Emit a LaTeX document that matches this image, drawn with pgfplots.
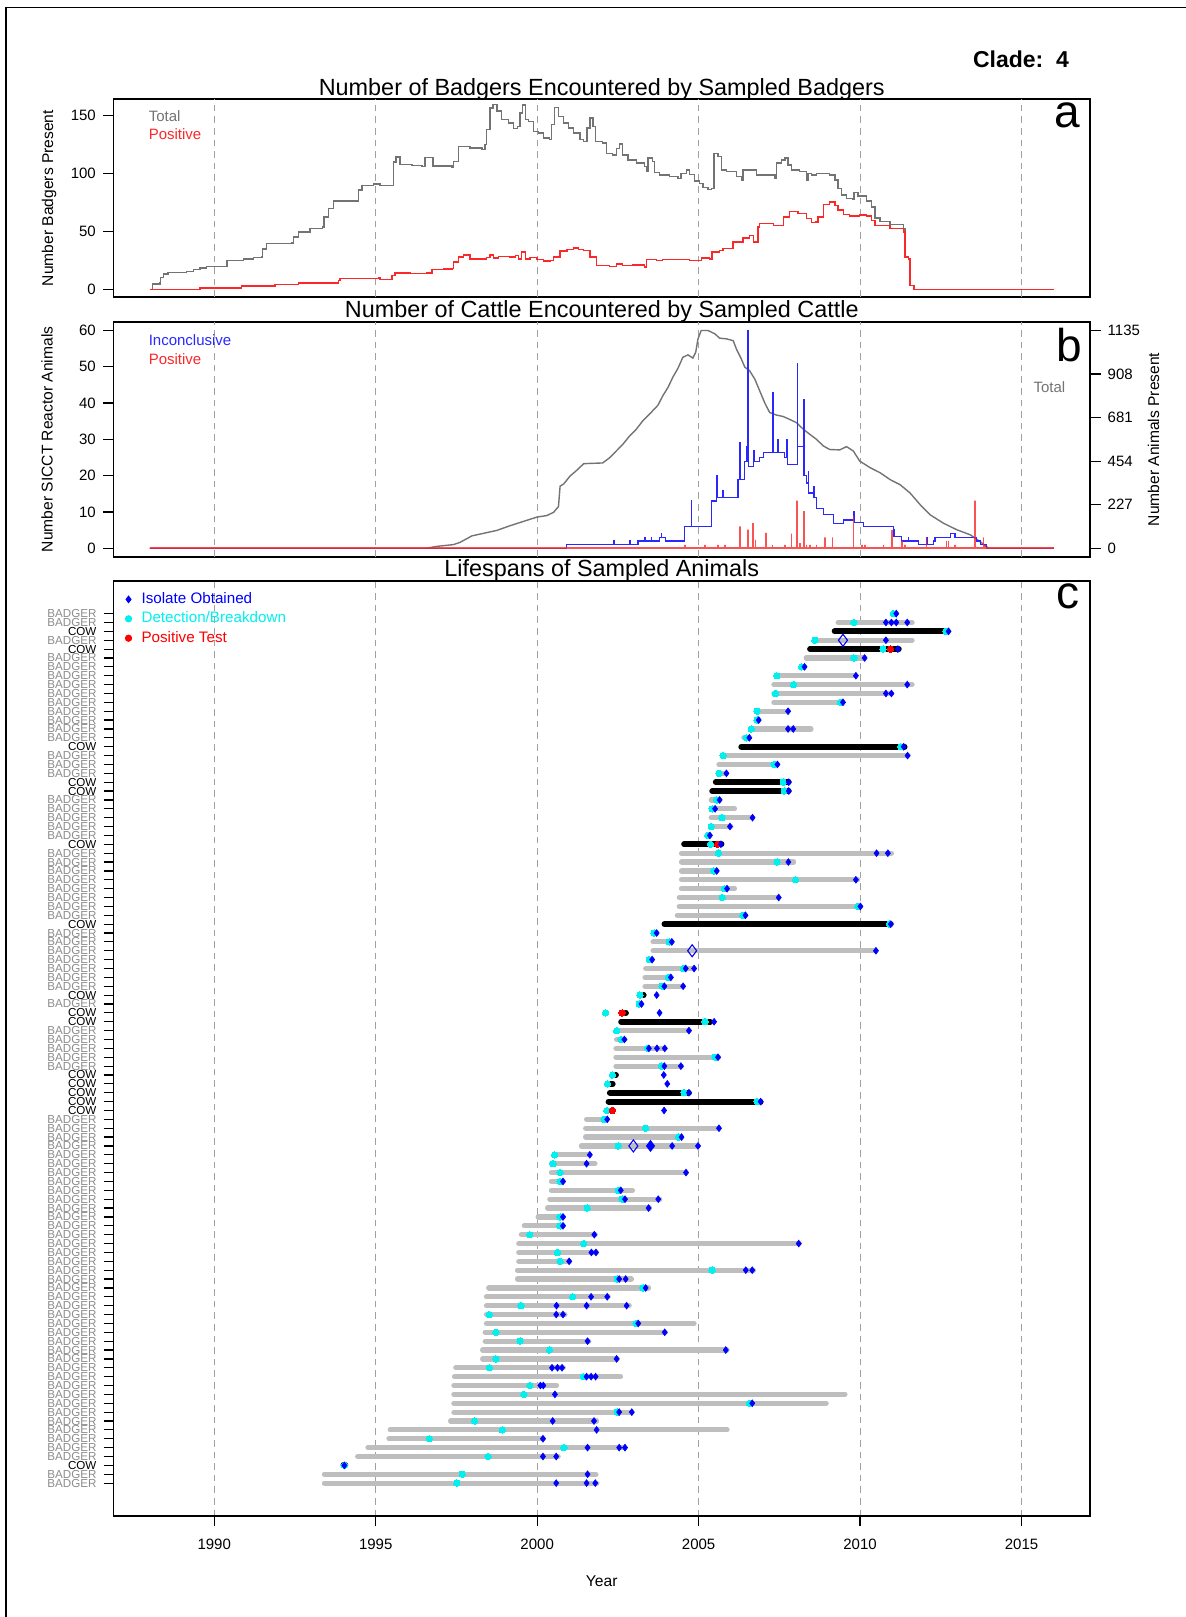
\documentclass[border=0pt]{standalone}
\usepackage{fontspec}
\setmainfont{Liberation Sans}
\usepackage{pgfplots}
\pgfplotsset{compat=1.18}
\definecolor{totgray}{RGB}{115,115,115}
\definecolor{barg}{RGB}{190,190,190}
\definecolor{gridg}{RGB}{160,160,160}
\definecolor{labg}{RGB}{140,140,140}
\definecolor{posred}{RGB}{250,40,40}
\definecolor{incblue}{RGB}{40,40,255}
\definecolor{cyn}{RGB}{0,240,240}
\newcommand{\B}{\textcolor{labg}{BADGER}}
\newcommand{\C}{COW}
\newcommand{\fs}[1]{\fontsize{#1}{#1}\selectfont}
\pgfplotsset{
 mypanel/.style={
  scale only axis, width=488.25pt, anchor=north west,
  xmin=1986.88, xmax=2017.12,
  axis line style={line width=0.9pt},
  tick align=outside, ytick pos=left,
  tick style={black, line width=0.6pt},
  major tick length=5.3pt,
  /pgf/number format/assume math mode=true,
  /pgf/number format/1000 sep={},
  ticklabel style={font=\fs{7.5}},
  label style={font=\fs{7.8}},
  title style={font=\fs{11.7}, at={(0.5,1)}, anchor=base, yshift=-4pt},
  major grid style={draw=gridg, dash pattern=on 3.3pt off 2.5pt, line width=0.5pt},
  clip mode=individual,
 },
 topx/.style={xtick=\empty, extra x ticks={1990,1995,...,2015}, extra x tick labels={},
  extra x tick style={major tick length=0pt, grid=major}},
}
\begin{document}
\begin{tikzpicture}
\path[use as bounding box] (0pt,0pt) rectangle (593pt,-808.5pt);
\draw[line width=0.6pt] (3pt,-808.5pt) -- (3pt,-3.65pt) -- (593pt,-3.65pt);
\node[anchor=base east, font=\bfseries\fs{11.5}] at (538pt,-33.5pt) {Clade:\ \ 4};

% ---------------- panel a
\begin{axis}[mypanel, topx, at={(56.75pt,-49.5pt)}, height=99pt,
  ymin=-6.3, ymax=164.3, ytick={0,50,100,150},
  title={Number of Badgers Encountered by Sampled Badgers},
  ylabel={Number Badgers Present},
  ylabel style={at={(axis description cs:-0.066,0.5)}, anchor=center}]
\addplot[const plot, totgray, line width=0.7pt] coordinates {
(1988.0,0) (1988.09,5) (1988.32,6.4) (1988.34,10.7) (1988.42,13.6) (1988.57,15) (1989.14,15.6) (1989.35,17.3) (1989.56,18.8) (1989.76,20) (1990.40,24.9) (1990.90,26.6) (1991.21,27.5) (1991.47,28) (1991.50,35) (1991.62,39.6) (1992.40,40.2) (1992.45,45.4) (1992.60,49.7) (1992.96,52.6) (1993.35,54) (1993.40,62.7) (1993.53,70) (1993.69,76.3) (1994.46,85.8) (1994.57,89.6) (1994.93,91) (1995.13,90) (1995.55,110) (1995.63,114.2) (1995.75,108) (1996.12,107) (1996.43,106) (1996.53,114) (1996.77,106.6) (1997.36,105.8) (1997.41,110.4) (1997.56,123.4) (1997.92,122) (1998.29,121) (1998.39,124.9) (1998.44,137.9) (1998.54,156.6) (1998.63,159.5) (1998.75,153.8) (1998.90,146.5) (1999.11,143.6) (1999.27,139) (1999.39,140.8) (1999.47,152.3) (1999.55,159) (1999.63,146.5) (1999.73,145) (1999.89,136.4) (2000.04,135) (2000.20,130.6) (2000.38,129.2) (2000.45,142.2) (2000.53,157.2) (2000.66,149.4) (2000.82,143.6) (2000.97,139.3) (2001.13,135) (2001.33,129.2) (2001.44,127.7) (2001.54,139.3) (2001.64,148) (2001.73,140.8) (2001.80,127.7) (2002.03,126.3) (2002.14,117.6) (2002.34,116) (2002.45,121.4) (2002.55,125.4) (2002.65,116) (2002.81,111.8) (2003.07,109) (2003.32,106) (2003.38,101.7) (2003.43,113.3) (2003.58,110.4) (2003.63,101.2) (2003.79,98.8) (2004.10,97.4) (2004.36,96) (2004.46,100.3) (2004.62,103.2) (2004.72,99.4) (2004.88,93.6) (2005.03,91.6) (2005.13,87.9) (2005.29,86.4) (2005.39,87.3) (2005.47,117.6) (2005.60,114.7) (2005.70,103.2) (2005.86,101.7) (2006.17,97.4) (2006.32,94.5) (2006.38,103.2) (2006.58,103.2) (2006.79,98.8) (2007.36,96) (2007.41,109) (2007.56,111.8) (2007.67,113.3) (2007.77,107.5) (2007.87,103.2) (2008.13,101.7) (2008.34,94.5) (2008.39,100.3) (2008.50,98.8) (2008.65,100.3) (2009.06,98.8) (2009.22,94.5) (2009.32,87.3) (2009.43,81.5) (2009.58,78.6) (2009.77,78) (2009.81,83.8) (2009.94,80.9) (2010.20,76.3) (2010.36,71.4) (2010.46,61.8) (2010.62,59) (2010.93,56.1) (2011.34,52.6) (2011.39,28) (2011.49,26.6) (2011.55,3.5) (2011.67,0) (2016.0,0)};
\addplot[const plot, posred, line width=0.7pt] coordinates {
(1988.0,0) (1989.56,1.4) (1990.85,3.2) (1991.88,4.6) (1992.60,5.8) (1993.84,7.8) (1993.89,9.8) (1995.08,10.4) (1995.13,8.7) (1995.50,12.1) (1995.60,14.5) (1996.06,13.9) (1996.58,14.5) (1996.74,17.3) (1997.10,17.9) (1997.36,18.5) (1997.41,23.7) (1997.56,28) (1997.72,30) (1997.92,26.6) (1998.44,27.5) (1998.54,30) (1998.65,27.2) (1998.80,28.6) (1999.16,28) (1999.32,29.5) (1999.42,26.6) (1999.52,32.4) (1999.63,26.6) (1999.78,27.5) (1999.99,26) (2000.20,24.6) (2000.40,25.1) (2000.51,28) (2000.71,33.2) (2000.92,34.4) (2001.13,35.8) (2001.28,34.4) (2001.44,33.8) (2001.64,28) (2001.83,20.8) (2002.24,20.2) (2002.45,22.3) (2002.65,20.8) (2002.96,21.4) (2003.32,19.4) (2003.38,26) (2003.69,25.1) (2003.89,26) (2004.72,25.1) (2005.08,27.2) (2005.34,26.6) (2005.42,32.4) (2005.65,33.8) (2005.75,35.3) (2006.07,41) (2006.38,44.5) (2006.58,46.8) (2006.69,41) (2006.84,54) (2006.89,57) (2007.31,55.5) (2007.62,62.7) (2007.82,67.6) (2008.08,65.6) (2008.34,61.3) (2008.50,57.8) (2008.63,58.4) (2008.70,62.7) (2008.86,73.4) (2009.06,75.7) (2009.22,72.8) (2009.32,68.5) (2009.48,64.7) (2009.68,63.6) (2009.99,64.2) (2010.20,63.6) (2010.36,59.8) (2010.46,55.5) (2010.93,52.6) (2011.34,49.7) (2011.39,28) (2011.49,26.6) (2011.55,3.5) (2011.67,0) (2016.0,0)};
\node[anchor=base west, text=totgray, font=\fs{7.5}, xshift=14.1pt, yshift=-11.15pt] at (rel axis cs:0,1) {Total};
\node[anchor=base west, text=posred, font=\fs{7.5}, xshift=14.1pt, yshift=-20.25pt] at (rel axis cs:0,1) {Positive};
\node[anchor=base east, font=\fs{23}, xshift=-1.5pt, yshift=-14pt] at (rel axis cs:1,1) {a};
\end{axis}

% ---------------- panel b
\begin{axis}[mypanel, topx, at={(56.75pt,-160.9pt)}, height=117.55pt,
  ymin=-2.4, ymax=62.4, ytick={0,10,...,60},
  title={Number of Cattle Encountered by Sampled Cattle},
  ylabel={Number SICCT Reactor Animals},
  ylabel style={at={(axis description cs:-0.068,0.5)}, anchor=center}]
\addplot[sharp plot, totgray, line width=0.7pt] coordinates {
(1988,0) (1996.58,0) (1996.89,0.5) (1997.41,1.0) (1997.61,1.6) (1997.98,3.4) (1998.44,4.3) (1998.75,4.9) (1999.16,6.2) (1999.58,7.4) (2000.0,8.6) (2000.30,9.0) (2000.51,9.9) (2000.66,11.5) (2000.71,17.1) (2000.82,17.7) (2001.02,19.9) (2001.23,21.5) (2001.44,23.3) (2002.03,23.5) (2002.24,24.9) (2002.45,26.8) (2002.65,28.6) (2002.86,30.9) (2003.07,32.8) (2003.27,35.1) (2003.43,36.5) (2003.58,37.9) (2003.74,39.4) (2003.89,42) (2004.05,44.3) (2004.20,47.1) (2004.36,49.6) (2004.51,52.6) (2004.67,53.3) (2004.82,52.4) (2004.91,54) (2004.98,57.7) (2005.08,60) (2005.29,60) (2005.50,59.1) (2005.65,57.9) (2005.86,57.7) (2006.07,57.2) (2006.17,54.9) (2006.32,52.2) (2006.43,49.9) (2006.58,48.9) (2006.74,46.6) (2006.89,43.4) (2007.05,40) (2007.20,37.4) (2007.41,36.7) (2007.62,36.3) (2007.82,35.5) (2008.03,34.6) (2008.24,32.8) (2008.44,31.4) (2008.65,30) (2008.86,28.2) (2009.06,27.2) (2009.37,27.1) (2009.58,28) (2009.79,26.8) (2009.99,24) (2010.31,22.2) (2010.62,20.8) (2010.93,18.9) (2011.24,17.5) (2011.55,15.2) (2011.86,12) (2012.17,9.2) (2012.58,6.9) (2012.99,5.1) (2013.41,3.7) (2013.72,1.8) (2013.98,0) (2016,0)};
\addplot[const plot, incblue, line width=0.6pt] coordinates {
(1988,0) (2000.92,1) (2002.36,2) (2002.38,1) (2002.86,2) (2002.88,1) (2003.12,2) (2003.32,3) (2003.34,2) (2003.53,3) (2003.55,2) (2003.79,3) (2003.84,4) (2003.86,3) (2003.98,2) (2004.57,6) (2004.77,13) (2004.79,6) (2005.39,13) (2005.55,20) (2005.57,14) (2005.75,16) (2005.77,14) (2006.22,19) (2006.27,29) (2006.29,19) (2006.43,24) (2006.48,28) (2006.50,24) (2006.53,60) (2006.55,22.6) (2006.69,24) (2006.71,27) (2006.73,24) (2006.89,25) (2007.00,26.3) (2007.29,43) (2007.31,26.3) (2007.46,30) (2007.48,26.3) (2007.67,25) (2007.72,30) (2007.74,23) (2008.03,23) (2008.05,51) (2008.07,28) (2008.24,41) (2008.26,20) (2008.34,18) (2008.39,21) (2008.41,15.2) (2008.55,13.9) (2008.57,17) (2008.59,13.9) (2008.65,11) (2008.86,9.2) (2009.17,6.9) (2009.48,7.8) (2009.79,8) (2009.81,10) (2009.83,7) (2010.10,6) (2011.03,3.2) (2011.05,5) (2011.07,3.2) (2011.29,2) (2011.49,3) (2011.51,2) (2011.80,1) (2012.06,3) (2012.08,1) (2012.28,2) (2012.32,3) (2012.79,4) (2012.94,3) (2013.61,2) (2013.72,1) (2013.92,0) (2016,0)};
\addplot[sharp plot, posred, line width=0.8pt, opacity=0.8] coordinates {
(1988,0) (2004.57,0) (2004.57,0.9) (2004.57,0) (2005.19,0) (2005.19,0.9) (2005.19,0) (2005.60,0) (2005.60,0.9) (2005.60,0) (2005.81,0) (2005.81,0.9) (2005.81,0) (2006.29,0) (2006.29,6) (2006.29,0) (2006.53,0) (2006.53,5.1) (2006.53,0) (2006.69,0) (2006.69,6.9) (2006.69,0) (2006.76,0) (2006.76,2.3) (2006.76,0) (2007.08,0) (2007.08,4.2) (2007.08,0) (2007.29,0) (2007.29,0.9) (2007.29,0) (2007.67,0) (2007.67,0.9) (2007.67,0) (2007.87,0) (2007.87,4) (2007.87,0) (2008.05,0) (2008.05,13.1) (2008.05,0) (2008.13,0) (2008.13,1.4) (2008.13,0) (2008.26,0) (2008.26,10.2) (2008.26,0) (2008.34,0) (2008.34,0.9) (2008.34,0) (2008.44,0) (2008.44,0.9) (2008.44,0) (2008.65,0) (2008.65,0.9) (2008.65,0) (2008.91,0) (2008.91,3) (2008.91,0) (2009.15,0) (2009.15,3) (2009.15,0) (2009.79,0) (2009.79,8.8) (2009.79,0) (2010.05,0) (2010.05,0.9) (2010.05,0) (2010.15,0) (2010.15,0.9) (2010.15,0) (2010.72,0) (2010.72,0.9) (2010.72,0) (2010.98,0) (2010.98,5) (2010.98,0) (2011.29,0) (2011.29,2) (2011.29,0) (2011.39,0) (2011.39,0.9) (2011.39,0) (2012.06,0) (2012.06,3) (2012.06,0) (2012.68,0) (2012.68,2) (2012.68,0) (2012.74,0) (2012.74,2) (2012.74,0) (2012.94,0) (2012.94,0.9) (2012.94,0) (2013.56,0) (2013.56,13.1) (2013.56,0) (2013.82,0) (2013.82,3) (2013.82,0) (2013.87,0) (2013.87,0.9) (2013.87,0) (2016,0)};
\node[anchor=base west, text=incblue, font=\fs{7.5}, xshift=14.1pt, yshift=-11.75pt] at (rel axis cs:0,1) {Inconclusive};
\node[anchor=base west, text=posred, font=\fs{7.5}, xshift=14.1pt, yshift=-21.1pt] at (rel axis cs:0,1) {Positive};
\node[anchor=base east, text=totgray, font=\fs{7.5}, xshift=-8.85pt, yshift=-35.25pt] at (rel axis cs:1,1) {Total};
\node[anchor=base east, font=\fs{23}, xshift=-0.5pt, yshift=-20pt] at (rel axis cs:1,1) {b};
\end{axis}
\begin{axis}[scale only axis, width=488.25pt, height=117.55pt, anchor=north west,
  at={(56.75pt,-160.9pt)}, xmin=1986.88, xmax=2017.12, ymin=-2.4, ymax=62.4,
  axis x line=none, axis y line*=right, axis line style={line width=0.9pt},
  tick align=outside, tick style={black, line width=0.6pt}, major tick length=5.3pt,
  ytick={0,12,24,36,48,60}, yticklabels={0,227,454,681,908,1135},
  ticklabel style={font=\fs{7.5}}, label style={font=\fs{7.8}},
  ylabel={Number Animals Present},
  ylabel style={at={(axis description cs:1.065,0.5)}, anchor=center}]
\end{axis}

% ---------------- panel c
\begin{axis}[mypanel, at={(56.75pt,-290.3pt)}, height=467.75pt,
  ymin=-2.72, ymax=102.72, xtick={1990,1995,...,2015}, xtick pos=bottom, xmajorgrids,
  major tick length=5pt,
  xticklabel style={yshift=-3pt},
  ytick={1,...,99},
  yticklabel style={font=\fs{5.8}},
  yticklabels={\B,\B,\C,
  \B,\B,\B,\B,\B,\B,\B,\B,\B,\B,
  \B,\B,\B,\B,\B,\B,\B,\B,\B,\B,
  \B,\B,\B,\B,\B,\B,\B,\B,\B,\B,
  \B,\B,\B,\B,\B,\B,\B,\B,\B,
  \C,\C,\C,\C,\C,
  \B,\B,\B,\B,\B,
  \C,\C,\B,\C,
  \B,\B,\B,\B,\B,\B,\B,
  \C,
  \B,\B,\B,\B,\B,\B,\B,\B,
  \C,
  \B,\B,\B,\B,\B,
  \C,\C,
  \B,\B,\B,
  \C,
  \B,\B,\B,\B,\B,\B,\B,\B,\B,\B,
  \C,\B,\C,\B,\B},
  title={Lifespans of Sampled Animals},
  xlabel={Year},
  xlabel style={at={(axis description cs:0.5,-0.0695)}, anchor=center},
  legend cell align=left,
  legend style={at={(0.0117,0.9893)}, anchor=north west, draw=none, fill=none,
    inner sep=0pt, font=\fs{7.6}, row sep=1.3pt, column sep=4.3pt,
    nodes={inner sep=0.6pt, text height=5.6pt, text depth=1.6pt}}]
\addlegendimage{only marks, mark=diamond*, mark size=1.7pt, blue}
\addlegendentry{\textcolor{blue}{Isolate Obtained}}
\addlegendimage{only marks, mark=*, mark size=1.6pt, cyn}
\addlegendentry{\textcolor{cyn}{Detection/Breakdown}}
\addlegendimage{only marks, mark=*, mark size=1.6pt, red}
\addlegendentry{\textcolor{red}{Positive Test}}
% grey bars (badgers)
\addplot[forget plot, barg, line width=2.6pt, line cap=round, unbounded coords=jump] coordinates {
(2011.03,99) (2011.12,99) (0,nan)
(2009.32,98) (2011.61,98) (0,nan)
(2008.60,96) (2011.61,96) (0,nan)
(2008.33,94) (2010.14,94) (0,nan)
(2008.19,93) (2008.28,93) (0,nan)
(2007.42,92) (2009.87,92) (0,nan)
(2007.33,91) (2011.61,91) (0,nan)
(2007.33,90) (2010.97,90) (0,nan)
(2007.33,89) (2009.47,89) (0,nan)
(2006.81,88) (2007.77,88) (0,nan)
(2006.81,87) (2006.86,87) (0,nan)
(2006.63,86) (2008.48,86) (0,nan)
(2006.40,85) (2006.57,85) (0,nan)
(2005.76,83) (2011.49,83) (0,nan)
(2005.63,82) (2007.44,82) (0,nan)
(2005.63,81) (2005.86,81) (0,nan)
(2005.39,78) (2005.65,78) (0,nan)
(2005.39,77) (2006.11,77) (0,nan)
(2005.39,76) (2006.67,76) (0,nan)
(2005.39,75) (2006.00,75) (0,nan)
(2005.28,74) (2005.35,74) (0,nan)
(2004.47,72) (2010.97,72) (0,nan)
(2004.47,71) (2007.94,71) (0,nan)
(2004.47,70) (2005.56,70) (0,nan)
(2004.47,69) (2009.93,69) (0,nan)
(2004.47,68) (2006.11,68) (0,nan)
(2004.40,67) (2007.48,67) (0,nan)
(2004.40,66) (2010.01,66) (0,nan)
(2004.34,65) (2006.46,65) (0,nan)
(2003.62,63) (2003.70,63) (0,nan)
(2003.59,62) (2004.17,62) (0,nan)
(2003.59,61) (2010.49,61) (0,nan)
(2003.47,60) (2003.56,60) (0,nan)
(2003.36,59) (2004.86,59) (0,nan)
(2003.34,58) (2004.14,58) (0,nan)
(2003.34,57) (2004.52,57) (0,nan)
(2003.16,55) (2003.23,55) (0,nan)
(2002.46,52) (2004.71,52) (0,nan)
(2002.46,51) (2002.72,51) (0,nan)
(2002.44,50) (2003.97,50) (0,nan)
(2002.44,49) (2005.62,49) (0,nan)
(2002.44,48) (2004.47,48) (0,nan)
(2001.53,42) (2002.15,42) (0,nan)
(2001.50,41) (2005.63,41) (0,nan)
(2001.50,40) (2004.47,40) (0,nan)
(2001.37,39) (2004.98,39) (0,nan)
(2000.52,38) (2001.63,38) (0,nan)
(2000.44,37) (2001.79,37) (0,nan)
(2000.44,36) (2004.61,36) (0,nan)
(2000.44,35) (2000.81,35) (0,nan)
(2000.44,34) (2002.95,34) (0,nan)
(2000.39,33) (2003.80,33) (0,nan)
(2000.32,32) (2003.48,32) (0,nan)
(2000.03,31) (2000.81,31) (0,nan)
(1999.60,30) (2000.81,30) (0,nan)
(1999.51,29) (2001.80,29) (0,nan)
(1999.43,28) (2008.12,28) (0,nan)
(1999.43,27) (2001.84,27) (0,nan)
(1999.43,26) (2001.01,26) (0,nan)
(1999.39,25) (2006.70,25) (0,nan)
(1999.39,24) (2002.92,24) (0,nan)
(1998.50,23) (2003.45,23) (0,nan)
(1998.43,22) (2002.20,22) (0,nan)
(1998.43,21) (2002.85,21) (0,nan)
(1998.43,20) (2000.86,20) (0,nan)
(1998.43,19) (2004.86,19) (0,nan)
(1998.39,18) (2003.97,18) (0,nan)
(1998.39,17) (2001.60,17) (0,nan)
(1998.31,16) (2005.88,16) (0,nan)
(1998.31,15) (2002.48,15) (0,nan)
(1997.48,14) (2000.81,14) (0,nan)
(1997.44,13) (2002.58,13) (0,nan)
(1997.42,12) (2000.60,12) (0,nan)
(1997.42,11) (2009.53,11) (0,nan)
(1997.42,10) (2008.95,10) (0,nan)
(1997.42,9) (2002.93,9) (0,nan)
(1997.32,8) (2001.84,8) (0,nan)
(1995.45,7) (2005.88,7) (0,nan)
(1995.41,6) (2000.19,6) (0,nan)
(1994.76,5) (2002.72,5) (0,nan)
(1994.44,4) (2000.65,4) (0,nan)
(1993.41,2) (2001.82,2) (0,nan)
(1993.41,1) (2001.85,1)};
% black bars (cattle)
\addplot[forget plot, black, line width=2.9pt, line cap=round, unbounded coords=jump] coordinates {
(2009.21,97) (2012.71,97) (0,nan)
(2008.45,95) (2011.20,95) (0,nan)
(2006.32,84) (2011.38,84) (0,nan)
(2005.53,80) (2007.79,80) (0,nan)
(2005.42,79) (2007.79,79) (0,nan)
(2004.55,73) (2005.71,73) (0,nan)
(2003.94,64) (2010.95,64) (0,nan)
(2003.18,56) (2003.30,56) (0,nan)
(2002.63,54) (2002.75,54) (0,nan)
(2002.60,53) (2005.36,53) (0,nan)
(2002.33,47) (2002.44,47) (0,nan)
(2002.18,46) (2002.34,46) (0,nan)
(2002.25,45) (2004.70,45) (0,nan)
(2002.21,44) (2006.92,44) (0,nan)
(2002.16,43) (2002.33,43) (0,nan)
(1994.00,3) (1994.06,3)};
% detection / breakdown
\addplot[forget plot, only marks, mark=*, mark size=1.6pt, mark options={draw=cyn, fill=cyn, line width=0pt}] coordinates {
(2011.03,99) (2009.81,98) (2012.66,97) (2008.60,96) (2010.71,95) (2009.81,94) (2008.19,93) (2007.42,92) (2007.94,91) (2007.38,90) (2009.39,89) (2006.81,88) (2006.81,87) (2006.63,86) (2006.48,85) (2011.26,84) (2005.76,83) (2007.34,82) (2005.63,81) (2007.62,80) (2007.65,79) (2005.56,78) (2005.42,77) (2005.72,76) (2005.39,75) (2005.28,74) (2005.37,73) (2005.61,72) (2007.43,71) (2005.47,70) (2008.00,69) (2005.80,68) (2005.73,67) (2009.93,66) (2006.37,65) (2010.91,64) (2003.62,63) (2004.09,62) (2003.47,60) (2004.53,59) (2004.06,58) (2003.87,57) (2003.18,56) (2003.16,55) (2002.12,54) (2005.20,53) (2002.46,52) (2002.60,51) (2003.42,50) (2005.51,49) (2003.85,48) (2002.33,47) (2002.18,46) (2004.55,45) (2006.81,44) (2002.16,43) (2002.07,42) (2003.36,41) (2004.38,40) (2002.51,39) (2000.54,38) (2000.49,37) (2000.71,36) (2000.71,35) (2002.51,34) (2002.63,33) (2001.55,32) (2000.71,31) (2000.71,30) (1999.77,29) (2001.44,28) (2000.63,27) (2000.71,26) (2005.42,25) (2002.48,24) (2003.28,23) (2001.10,22) (1999.50,21) (1998.52,20) (2003.06,19) (1998.72,18) (1999.47,17) (2000.38,16) (1998.72,15) (1998.52,14) (2001.43,13) (1999.77,12) (1999.59,11) (2006.57,10) (2002.48,9) (1998.06,8) (1998.92,7) (1996.66,6) (2000.83,5) (1998.48,4) (1994.03,3) (1997.68,2) (1997.51,1)};
% positive tests
\addplot[forget plot, only marks, mark=*, mark size=1.6pt, mark options={draw=red, fill=red, line width=0pt}] coordinates {
(2010.94,95) (2005.59,73) (2002.63,54) (2002.33,43)};
% isolates
\addplot[forget plot, only marks, mark=diamond*, mark size=1.7pt, mark options={draw=blue, fill=blue, line width=0.3pt}] coordinates {
(2011.12,99) (2010.80,98) (2010.97,98) (2011.12,98) (2011.46,98) (2012.74,97) (2010.80,96) (2011.17,95) (2010.14,94) (2008.28,93) (2009.87,92) (2011.46,91) (2010.80,90) (2010.97,90) (2009.47,89) (2007.77,88) (2006.86,87) (2007.77,86) (2007.93,86) (2006.57,85) (2011.35,84) (2011.47,83) (2007.44,82) (2005.86,81) (2007.79,80) (2007.79,79) (2005.65,78) (2005.51,77) (2006.67,76) (2005.97,75) (2005.35,74) (2005.69,73) (2010.51,72) (2010.86,72) (2007.78,71) (2005.56,70) (2009.87,69) (2005.88,68) (2007.48,67) (2010.01,66) (2006.45,65) (2010.95,64) (2003.70,63) (2004.17,62) (2010.49,61) (2003.56,60) (2004.60,59) (2004.86,59) (2004.14,58) (2003.94,57) (2004.52,57) (2003.70,56) (2003.23,55) (2003.79,54) (2005.48,53) (2004.70,52) (2002.70,51) (2003.46,50) (2003.71,50) (2003.95,50) (2005.60,49) (2003.94,48) (2004.45,48) (2003.92,47) (2004.03,46) (2004.70,45) (2006.92,44) (2003.93,43) (2002.17,42) (2005.63,41) (2004.47,40) (2004.18,39) (2004.98,39) (2001.63,38) (2001.53,37) (2004.61,36) (2000.80,35) (2002.59,34) (2002.72,33) (2003.75,33) (2003.45,32) (2000.80,31) (2000.80,30) (2001.77,29) (2008.10,28) (2001.68,27) (2001.82,27) (2000.99,26) (2006.46,25) (2006.66,25) (2002.54,24) (2002.74,24) (2003.36,23) (2001.67,22) (2002.17,22) (2000.60,21) (2001.53,21) (2002.77,21) (2000.59,20) (2000.80,20) (2003.13,19) (2003.95,18) (2001.56,17) (2005.84,16) (2002.46,15) (2000.46,14) (2000.63,14) (2000.77,14) (2001.53,13) (2001.67,13) (2001.81,13) (2000.10,12) (2000.19,12) (2000.55,11) (2006.66,10) (2002.54,9) (2002.93,9) (2000.48,8) (2001.76,8) (2001.84,7) (2000.18,6) (2001.56,5) (2002.54,5) (2002.72,5) (2000.18,4) (2000.59,4) (1994.03,3) (2001.56,2) (2000.59,1) (2001.53,1) (2001.80,1)};
% open diamonds
\addplot[forget plot, only marks, mark=diamond, mark size=3pt, mark options={draw=blue, line width=0.55pt}] coordinates {
(2009.47,96) (2004.80,61) (2002.98,39)};
\addplot[forget plot, only marks, mark=diamond*, mark size=2.7pt, mark options={draw=blue, fill=blue, line width=0.4pt}] coordinates {
(2003.51,39)};
\node[anchor=base east, font=\fs{23}, xshift=-1.5pt, yshift=-13.7pt] at (rel axis cs:1,1) {c};
\end{axis}
\end{tikzpicture}
\end{document}
